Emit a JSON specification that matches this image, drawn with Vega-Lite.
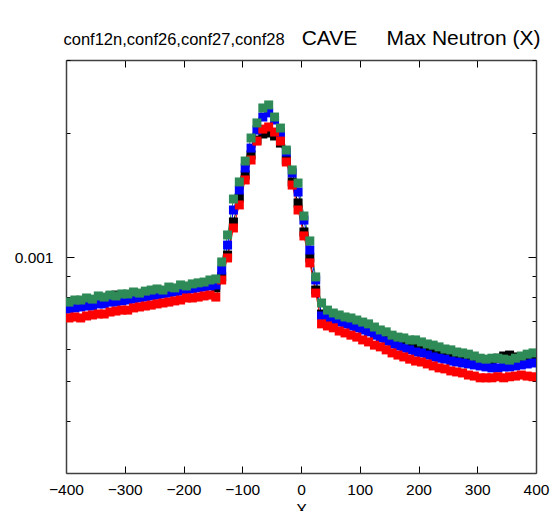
{
  "$schema": "https://vega.github.io/schema/vega-lite/v6.json",
  "width": 470,
  "height": 413,
  "autosize": {"type": "none"},
  "padding": {"left": 66, "top": 60, "right": 16, "bottom": 38},
  "background": "white",
  "config": {
    "view": {"stroke": null},
    "font": "Liberation Sans",
    "axis": {"labelFont": "Liberation Sans", "titleFont": "Liberation Sans", "labelColor": "#000000", "titleColor": "#000000", "titleFontWeight": "normal", "domainColor": "#404040", "domainWidth": 1.5, "tickColor": "#000000", "tickWidth": 1, "grid": false}
  },
  "data": {"values": [
    {"x":-395,"conf12n":0.000757,"conf26":0.000748,"conf27":0.000712,"conf28":0.000778},
    {"x":-385,"conf12n":0.000761,"conf26":0.000753,"conf27":0.000716,"conf28":0.000787},
    {"x":-375,"conf12n":0.000770,"conf26":0.000757,"conf27":0.000712,"conf28":0.000787},
    {"x":-365,"conf12n":0.000765,"conf26":0.000761,"conf27":0.000720,"conf28":0.000796},
    {"x":-355,"conf12n":0.000774,"conf26":0.000761,"conf27":0.000724,"conf28":0.000791},
    {"x":-345,"conf12n":0.000783,"conf26":0.000770,"conf27":0.000728,"conf28":0.000805},
    {"x":-335,"conf12n":0.000796,"conf26":0.000770,"conf27":0.000728,"conf28":0.000800},
    {"x":-325,"conf12n":0.000805,"conf26":0.000778,"conf27":0.000736,"conf28":0.000809},
    {"x":-315,"conf12n":0.000809,"conf26":0.000778,"conf27":0.000740,"conf28":0.000805},
    {"x":-305,"conf12n":0.000791,"conf26":0.000783,"conf27":0.000744,"conf28":0.000814},
    {"x":-295,"conf12n":0.000800,"conf26":0.000787,"conf27":0.000744,"conf28":0.000814},
    {"x":-285,"conf12n":0.000814,"conf26":0.000791,"conf27":0.000753,"conf28":0.000823},
    {"x":-275,"conf12n":0.000805,"conf26":0.000796,"conf27":0.000757,"conf28":0.000818},
    {"x":-265,"conf12n":0.000809,"conf26":0.000800,"conf27":0.000761,"conf28":0.000827},
    {"x":-255,"conf12n":0.000818,"conf26":0.000805,"conf27":0.000765,"conf28":0.000832},
    {"x":-245,"conf12n":0.000827,"conf26":0.000809,"conf27":0.000770,"conf28":0.000837},
    {"x":-235,"conf12n":0.000823,"conf26":0.000814,"conf27":0.000774,"conf28":0.000832},
    {"x":-225,"conf12n":0.000827,"conf26":0.000818,"conf27":0.000778,"conf28":0.000846},
    {"x":-215,"conf12n":0.000832,"conf26":0.000823,"conf27":0.000783,"conf28":0.000842},
    {"x":-205,"conf12n":0.000837,"conf26":0.000827,"conf27":0.000787,"conf28":0.000856},
    {"x":-195,"conf12n":0.000846,"conf26":0.000832,"conf27":0.000796,"conf28":0.000851},
    {"x":-185,"conf12n":0.000851,"conf26":0.000837,"conf27":0.000796,"conf28":0.000861},
    {"x":-175,"conf12n":0.000856,"conf26":0.000842,"conf27":0.000800,"conf28":0.000866},
    {"x":-165,"conf12n":0.000851,"conf26":0.000846,"conf27":0.000805,"conf28":0.000870},
    {"x":-155,"conf12n":0.000861,"conf26":0.000851,"conf27":0.000809,"conf28":0.000880},
    {"x":-145,"conf12n":0.000842,"conf26":0.000856,"conf27":0.000800,"conf28":0.000885},
    {"x":-135,"conf12n":0.000895,"conf26":0.000930,"conf27":0.000880,"conf28":0.000973},
    {"x":-125,"conf12n":0.001011,"conf26":0.001069,"conf27":0.000995,"conf28":0.001131},
    {"x":-115,"conf12n":0.001216,"conf26":0.001300,"conf27":0.001176,"conf28":0.001382},
    {"x":-105,"conf12n":0.001389,"conf26":0.001453,"conf27":0.001337,"conf28":0.001520},
    {"x":-95,"conf12n":0.001580,"conf26":0.001643,"conf27":0.001537,"conf28":0.001708},
    {"x":-85,"conf12n":0.001766,"conf26":0.001836,"conf27":0.001718,"conf28":0.001942},
    {"x":-75,"conf12n":0.001920,"conf26":0.002030,"conf27":0.001909,"conf28":0.002112},
    {"x":-65,"conf12n":0.001986,"conf26":0.002183,"conf27":0.002041,"conf28":0.002296},
    {"x":-55,"conf12n":0.001997,"conf26":0.002234,"conf27":0.002065,"conf28":0.002335},
    {"x":-45,"conf12n":0.001964,"conf26":0.002147,"conf27":0.002008,"conf28":0.002183},
    {"x":-35,"conf12n":0.001888,"conf26":0.001997,"conf27":0.001909,"conf28":0.002053},
    {"x":-25,"conf12n":0.001718,"conf26":0.001796,"conf27":0.001699,"conf28":0.001816},
    {"x":-15,"conf12n":0.001520,"conf26":0.001598,"conf27":0.001494,"conf28":0.001625},
    {"x":-5,"conf12n":0.001352,"conf26":0.001437,"conf27":0.001300,"conf28":0.001511},
    {"x":5,"conf12n":0.001150,"conf26":0.001229,"conf27":0.001125,"conf28":0.001257},
    {"x":15,"conf12n":0.000995,"conf26":0.001040,"conf27":0.000968,"conf28":0.001094},
    {"x":25,"conf12n":0.000832,"conf26":0.000880,"conf27":0.000818,"conf28":0.000895},
    {"x":35,"conf12n":0.000728,"conf26":0.000720,"conf27":0.000689,"conf28":0.000774},
    {"x":45,"conf12n":0.000724,"conf26":0.000712,"conf27":0.000681,"conf28":0.000744},
    {"x":55,"conf12n":0.000712,"conf26":0.000704,"conf27":0.000674,"conf28":0.000732},
    {"x":65,"conf12n":0.000704,"conf26":0.000696,"conf27":0.000662,"conf28":0.000724},
    {"x":75,"conf12n":0.000700,"conf26":0.000689,"conf27":0.000655,"conf28":0.000716},
    {"x":85,"conf12n":0.000696,"conf26":0.000681,"conf27":0.000647,"conf28":0.000712},
    {"x":95,"conf12n":0.000689,"conf26":0.000674,"conf27":0.000640,"conf28":0.000704},
    {"x":105,"conf12n":0.000681,"conf26":0.000666,"conf27":0.000630,"conf28":0.000696},
    {"x":115,"conf12n":0.000677,"conf26":0.000659,"conf27":0.000623,"conf28":0.000689},
    {"x":125,"conf12n":0.000666,"conf26":0.000647,"conf27":0.000612,"conf28":0.000677},
    {"x":135,"conf12n":0.000659,"conf26":0.000637,"conf27":0.000606,"conf28":0.000666},
    {"x":145,"conf12n":0.000647,"conf26":0.000626,"conf27":0.000596,"conf28":0.000659},
    {"x":155,"conf12n":0.000640,"conf26":0.000616,"conf27":0.000586,"conf28":0.000647},
    {"x":165,"conf12n":0.000630,"conf26":0.000609,"conf27":0.000579,"conf28":0.000640},
    {"x":175,"conf12n":0.000623,"conf26":0.000602,"conf27":0.000573,"conf28":0.000637},
    {"x":185,"conf12n":0.000616,"conf26":0.000596,"conf27":0.000566,"conf28":0.000630},
    {"x":195,"conf12n":0.000612,"conf26":0.000589,"conf27":0.000560,"conf28":0.000630},
    {"x":205,"conf12n":0.000609,"conf26":0.000586,"conf27":0.000557,"conf28":0.000623},
    {"x":215,"conf12n":0.000602,"conf26":0.000579,"conf27":0.000551,"conf28":0.000616},
    {"x":225,"conf12n":0.000599,"conf26":0.000573,"conf27":0.000545,"conf28":0.000612},
    {"x":235,"conf12n":0.000592,"conf26":0.000569,"conf27":0.000539,"conf28":0.000606},
    {"x":245,"conf12n":0.000589,"conf26":0.000566,"conf27":0.000536,"conf28":0.000599},
    {"x":255,"conf12n":0.000582,"conf26":0.000560,"conf27":0.000530,"conf28":0.000596},
    {"x":265,"conf12n":0.000579,"conf26":0.000557,"conf27":0.000527,"conf28":0.000589},
    {"x":275,"conf12n":0.000576,"conf26":0.000554,"conf27":0.000524,"conf28":0.000586},
    {"x":285,"conf12n":0.000569,"conf26":0.000551,"conf27":0.000518,"conf28":0.000582},
    {"x":295,"conf12n":0.000569,"conf26":0.000548,"conf27":0.000515,"conf28":0.000576},
    {"x":305,"conf12n":0.000563,"conf26":0.000545,"conf27":0.000510,"conf28":0.000569},
    {"x":315,"conf12n":0.000560,"conf26":0.000542,"conf27":0.000510,"conf28":0.000566},
    {"x":325,"conf12n":0.000563,"conf26":0.000539,"conf27":0.000510,"conf28":0.000569},
    {"x":335,"conf12n":0.000569,"conf26":0.000539,"conf27":0.000513,"conf28":0.000569},
    {"x":345,"conf12n":0.000576,"conf26":0.000542,"conf27":0.000510,"conf28":0.000566},
    {"x":355,"conf12n":0.000579,"conf26":0.000542,"conf27":0.000513,"conf28":0.000563},
    {"x":365,"conf12n":0.000573,"conf26":0.000545,"conf27":0.000515,"conf28":0.000569},
    {"x":375,"conf12n":0.000569,"conf26":0.000548,"conf27":0.000518,"conf28":0.000576},
    {"x":385,"conf12n":0.000566,"conf26":0.000551,"conf27":0.000515,"conf28":0.000582},
    {"x":395,"conf12n":0.000569,"conf26":0.000554,"conf27":0.000513,"conf28":0.000586}
  ]},
  "transform": [{"fold": ["conf12n", "conf26", "conf27", "conf28"], "as": ["key", "value"]}],
  "layer": [
    {
      "mark": {"type": "line", "strokeWidth": 1, "clip": true},
      "encoding": {
        "x": {"field": "x", "type": "quantitative", "scale": {"domain": [-400, 400], "nice": false, "zero": false},
          "axis": {"orient": "bottom", "values": [-400, -300, -200, -100, 0, 100, 200, 300, 400], "tickSize": -7, "labelFontSize": 15.5, "labelPadding": 16, "title": "X", "titleFontSize": 16, "titlePadding": 5, "labelFlush": false}},
        "y": {"field": "value", "type": "quantitative", "scale": {"type": "log", "domain": [0.0003, 0.003], "nice": false, "zero": false},
          "axis": {"orient": "left", "values": [0.0004, 0.0005, 0.0006, 0.0007, 0.0008, 0.0009, 0.001, 0.002, 0.003],
            "labelExpr": "abs(datum.value - 0.001) < 1e-9 ? '0.001' : ''",
            "tickSize": {"condition": {"test": "abs(datum.value - 0.001) < 1e-9", "value": -8}, "value": -4},
            "labelFontSize": 15.5, "labelPadding": 21, "labelFlush": false,
            "title": "conf12n,conf26,conf27,conf28", "titleAngle": 0, "titleAlign": "left", "titleBaseline": "alphabetic",
            "titleX": -3, "titleY": -16, "titleFontSize": 16.5}},
        "color": {"field": "key", "type": "nominal", "scale": {"domain": ["conf12n", "conf26", "conf27", "conf28"], "range": ["#000000", "#0000ff", "#ff0000", "#2e8b57"]}, "legend": null},
        "detail": {"field": "key"}
      }
    },
    {
      "mark": {"type": "point", "shape": "square", "filled": true, "size": 81, "opacity": 1, "clip": true},
      "encoding": {
        "x": {"field": "x", "type": "quantitative",
          "axis": {"orient": "top", "values": [-400, -300, -200, -100, 0, 100, 200, 300, 400], "tickSize": -7, "labels": false,
            "title": "CAVE\u00a0\u00a0\u00a0\u00a0\u00a0Max Neutron (X)", "titleFontSize": 21, "titleAngle": 0, "titleAlign": "right", "titleBaseline": "alphabetic", "titleX": 474, "titleY": -16}},
        "y": {"field": "value", "type": "quantitative",
          "axis": {"orient": "right", "values": [0.0004, 0.0005, 0.0006, 0.0007, 0.0008, 0.0009, 0.001, 0.002, 0.003], "labels": false, "title": null,
            "tickSize": {"condition": {"test": "abs(datum.value - 0.001) < 1e-9", "value": -8}, "value": -4}}},
        "color": {"field": "key", "type": "nominal", "legend": null},
        "order": {"field": "key", "type": "ordinal"}
      }
    }
  ],
  "resolve": {"axis": {"x": "independent", "y": "independent"}}
}
